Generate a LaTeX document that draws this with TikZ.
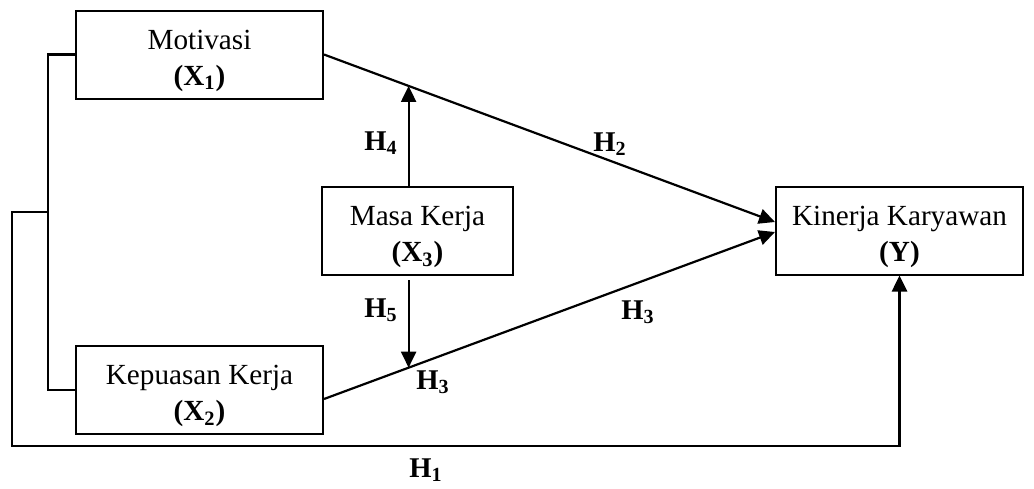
\documentclass[tikz,border=0pt]{standalone}
\usepackage{fontspec}
\setmainfont{Liberation Serif}
\usetikzlibrary{arrows.meta,calc}

\newcommand{\topstrut}{\rule{0pt}{16pt}}

\tikzset{
  varbox/.style={draw, line width=1pt, rectangle, align=center, inner sep=0pt,
    minimum width=123.5pt, minimum height=44pt,
    font=\fontsize{14.6}{18}\selectfont},
  hlabel/.style={font=\fontsize{14.3}{17}\selectfont\bfseries},
  path/.style={line width=1.1pt},
  tip/.style={-{Triangle[length=8pt,width=7.5pt]}}
}

\begin{document}
\begin{tikzpicture}[x=0.5pt,y=-0.5pt]
      \useasboundingbox (0,0) rectangle (1034,488);

      % Variables
      \node[varbox] (mot) at (199.5,54.5) {\topstrut Motivasi\\\textbf{(X\textsubscript{1})}};
      \node[varbox] (kep) at (199.5,390) {\topstrut Kepuasan Kerja\\\textbf{(X\textsubscript{2})}};
      \node[varbox, minimum width=95.5pt] (masa) at (417.5,231) {\topstrut Masa Kerja\\\textbf{(X\textsubscript{3})}};
      \node[varbox] (kin) at (899.5,230.5) {\topstrut Kinerja Karyawan\\\textbf{(Y)}};

      % Coordinates for the paths
      \coordinate (kinA) at ([yshift=4.25pt]kin.west);
      \coordinate (kinB) at ([yshift=-0.75pt]kin.west);
      \coordinate (kepR) at ([yshift=-4.5pt]kep.east);
      \coordinate (m1) at ($(mot.east)!0.1876!(kinA)$);
      \coordinate (m2) at ($(kepR)!0.1876!(kinB)$);
      \coordinate (brk) at (48,212);
      \coordinate (bl) at (12,446);

      % Direct effects
      \draw[path, tip] (mot.east) -- (kinA);
      \draw[path, tip] (kepR) -- (kinB);

      % Moderation
      \draw[path, tip] (masa.north -| m1) -- (m1);
      \draw[path, tip, shorten <=2pt] (masa.south -| m2) -- (m2);

      % Simultaneous effect
      \draw[path] (mot.west) -| (brk) |- (kep.west);
      \draw[path, tip, line width=1.3pt] (brk) -| (bl) -| (kin.south);

      % Label the hypotheses
      \node[hlabel] (h4) at (381,143) {H\textsubscript{4}};
      \node[hlabel] (h2) at (610,144) {H\textsubscript{2}};
      \node[hlabel] (h5) at (381,310) {H\textsubscript{5}};
      \node[hlabel] (h3a) at (638,312) {H\textsubscript{3}};
      \node[hlabel] (h3b) at (433,382) {H\textsubscript{3}};
      \node[hlabel] (h1) at (426,470) {H\textsubscript{1}};
\end{tikzpicture}
\end{document}
